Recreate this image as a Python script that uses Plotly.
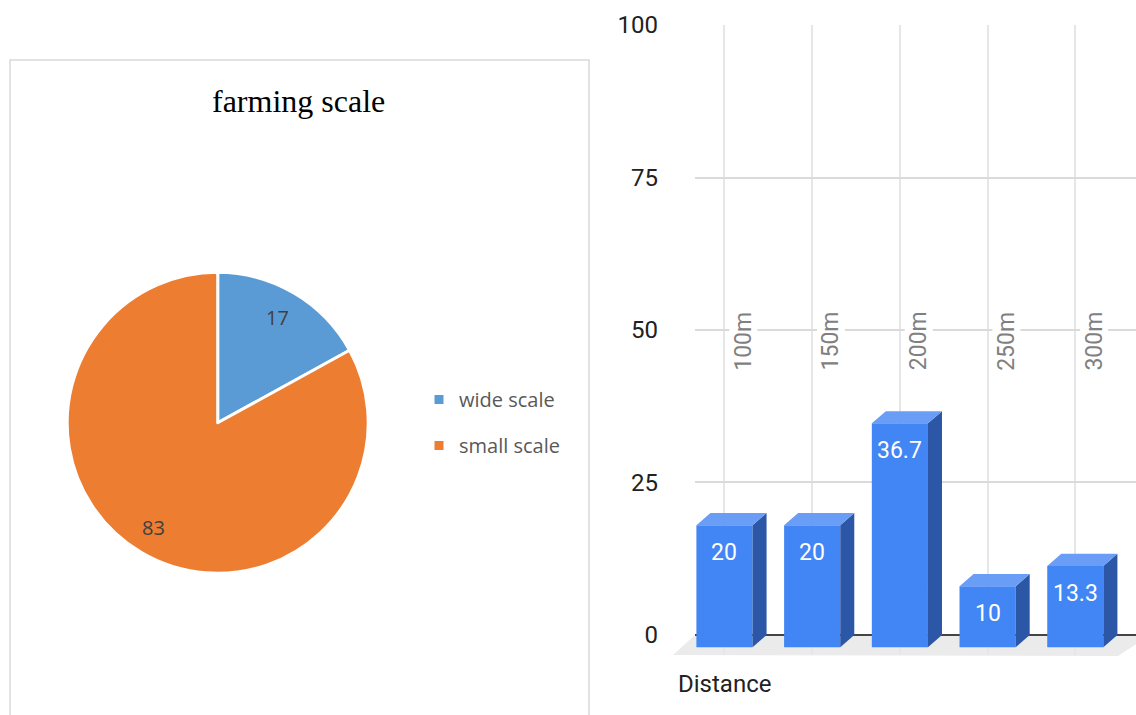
import math
import plotly.graph_objects as go

# ---- data -------------------------------------------------------------
pie_labels = ["wide scale", "small scale"]
pie_values = [17, 83]
pie_colors = ["#5B9BD5", "#ED7D31"]

distance_labels = ["100m", "150m", "200m", "250m", "300m"]
distance_values = [20, 20, 36.7, 10, 13.3]

y_tick_vals = [0, 25, 50, 75, 100]
y_tick_text = ["0", "25", "50", "75", "100"]

# ---- canvas helpers ---------------------------------------------------
W, H = 1136, 715


def px_x(x):
    return x / W


def px_y(y):
    return 1 - y / H


# ---- pie panel --------------------------------------------------------
PIE_CX, PIE_CY, PIE_R = 217.7, 422.8, 150.5

fig = go.Figure()

fig.add_trace(go.Pie(
    labels=pie_labels,
    values=pie_values,
    sort=False,
    direction="clockwise",
    rotation=0,
    marker=dict(colors=pie_colors, line=dict(color="white", width=3)),
    textinfo="none",
    hoverinfo="label+value",
    showlegend=False,
    domain=dict(
        x=[px_x(PIE_CX - PIE_R), px_x(PIE_CX + PIE_R)],
        y=[px_y(PIE_CY + PIE_R), px_y(PIE_CY - PIE_R)],
    ),
))

# slice value labels placed along each slice's mid angle
total = sum(pie_values)
cum = 0
annotations = []
for v in pie_values:
    theta = 2 * math.pi * (cum + v / 2) / total
    cum += v
    lx = PIE_CX + 0.81 * PIE_R * math.sin(theta)
    ly = PIE_CY - 0.81 * PIE_R * math.cos(theta)
    annotations.append(dict(
        x=px_x(lx - 2), y=px_y(ly), xref="paper", yref="paper",
        text=f"{v:g}", showarrow=False, xanchor="center", yanchor="middle",
        font=dict(family="Open Sans", size=20, color="#404040"),
    ))

annotations.append(dict(
    x=px_x(298.5), y=px_y(101), xref="paper", yref="paper",
    text="farming scale", showarrow=False, xanchor="center", yanchor="middle",
    font=dict(family="Liberation Serif", size=32, color="#000000"),
))

# legend entries for the pie slices
for name, color in zip(pie_labels, pie_colors):
    fig.add_trace(go.Scatter(
        x=[None], y=[None], mode="markers", name=name, legendgroup=name,
        marker=dict(symbol="square", size=9, color=color),
        xaxis="x", yaxis="y", showlegend=True,
    ))

# ---- 3D column panel --------------------------------------------------
BAR_W = 0.64      # front face width in category units
DEPTH_X = 0.16    # depth offset, category units
DEPTH_Y = 2.0     # depth offset, value units
FRONT = "#4285F4"
SIDE = "#2C57A6"
TOP = "#6A9DF5"

idx = list(range(len(distance_values)))

side_x, side_y, top_x, top_y = [], [], [], []
for i, v in zip(idx, distance_values):
    l, r = i - BAR_W / 2, i + BAR_W / 2
    top_x += [l, l + DEPTH_X, r + DEPTH_X, r, l, None]
    top_y += [v - DEPTH_Y, v, v, v - DEPTH_Y, v - DEPTH_Y, None]
    side_x += [r, r + DEPTH_X, r + DEPTH_X, r, r, None]
    side_y += [v - DEPTH_Y, v, 0, -DEPTH_Y, v - DEPTH_Y, None]

fig.add_trace(go.Bar(
    x=idx, y=distance_values, base=-DEPTH_Y, width=BAR_W,
    marker=dict(color=FRONT, line=dict(width=0)),
    showlegend=False, hoverinfo="y",
    xaxis="x", yaxis="y",
))
fig.add_trace(go.Scatter(
    x=side_x, y=side_y, mode="lines", fill="toself", fillcolor=SIDE,
    line=dict(width=0, color=SIDE), showlegend=False, hoverinfo="skip",
    xaxis="x", yaxis="y",
))
fig.add_trace(go.Scatter(
    x=top_x, y=top_y, mode="lines", fill="toself", fillcolor=TOP,
    line=dict(width=0, color=TOP), showlegend=False, hoverinfo="skip",
    xaxis="x", yaxis="y",
))

# value labels on the front faces
for i, v in zip(idx, distance_values):
    annotations.append(dict(
        x=i, y=v - DEPTH_Y, xref="x", yref="y", text=f"{v:g}",
        showarrow=False, xanchor="center", yanchor="top", yshift=-12,
        font=dict(family="Roboto", size=23, color="white"),
    ))

# category labels, rotated, standing on the back wall
for i, lab in zip(idx, distance_labels):
    annotations.append(dict(
        x=i + 0.22, y=48.2, xref="x", yref="y", text=lab, textangle=-90,
        showarrow=False, xanchor="center", yanchor="middle",
        bgcolor="white", borderpad=0,
        font=dict(family="Roboto", size=23, color="#808080"),
    ))

annotations.append(dict(
    x=px_x(676), y=px_y(684), xref="paper", yref="paper", text="Distance",
    showarrow=False, xanchor="left", yanchor="middle",
    font=dict(family="Roboto", size=24, color="#222222"),
))

shapes = [
    # frame around the pie panel
    dict(type="rect", xref="paper", yref="paper",
         x0=px_x(10), x1=px_x(589), y0=px_y(730), y1=px_y(60),
         line=dict(color="#D9D9D9", width=1.5), layer="below"),
    # floor under the columns
    dict(type="path", xref="paper", yref="paper", layer="below",
         path=(f"M{px_x(695)},{px_y(635)} L{px_x(1150)},{px_y(635)} "
               f"L{px_x(1118)},{px_y(656)} L{px_x(673)},{px_y(655)} Z"),
         fillcolor="#EBEBEB", line=dict(width=0)),
]

fig.update_layout(
    width=W, height=H, autosize=False,
    margin=dict(l=0, r=0, t=0, b=0),
    paper_bgcolor="white", plot_bgcolor="rgba(0,0,0,0)",
    template="none",
    barmode="overlay",
    xaxis=dict(
        domain=[px_x(695), 1.0],
        range=[-0.336, 4.692],
        tickvals=idx, showticklabels=False, ticks="",
        showgrid=True, gridcolor="#E6E6E6", gridwidth=1.5,
        zeroline=False, showline=False, fixedrange=True,
    ),
    yaxis=dict(
        domain=[px_y(655), px_y(25)],
        range=[-3.28, 100],
        tickvals=y_tick_vals, ticktext=y_tick_text, ticks="",
        ticklabelstandoff=36,
        tickfont=dict(family="Roboto", size=24, color="#222222"),
        showgrid=True, gridcolor="#DADADA", gridwidth=1.5,
        zeroline=True, zerolinecolor="#444444", zerolinewidth=2,
        showline=False, fixedrange=True,
    ),
    legend=dict(
        x=px_x(419), y=px_y(380), xanchor="left", yanchor="top",
        font=dict(family="Open Sans", size=20, color="#595959"),
        tracegroupgap=17, bgcolor="rgba(0,0,0,0)",
        traceorder="grouped",
    ),
    annotations=annotations,
    shapes=shapes,
    hovermode=False,
)

fig.write_html("out.html")
